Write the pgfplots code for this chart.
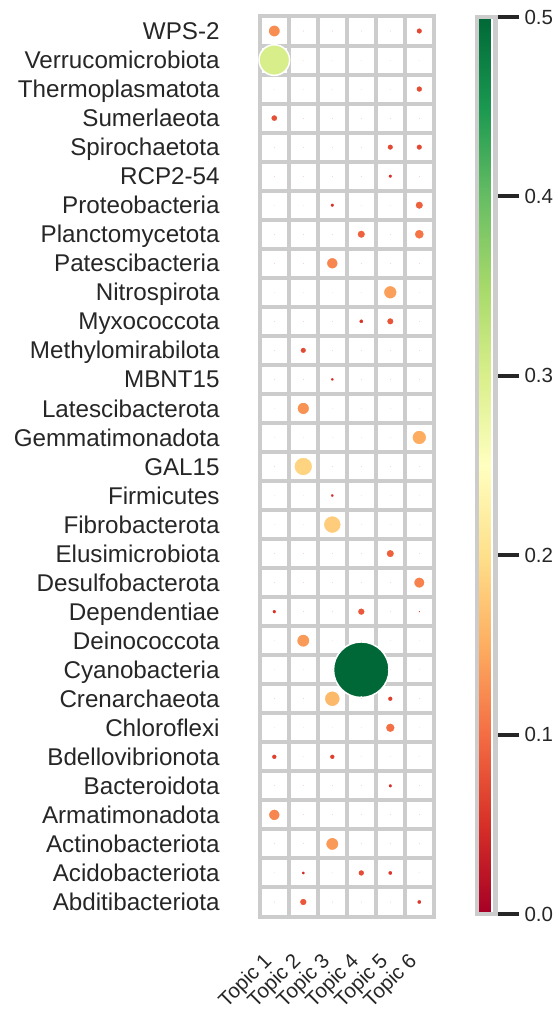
\documentclass[border=0pt]{standalone}
\usepackage{pgfplots}
\pgfplotsset{compat=1.18}
\usepackage{pgfplotstable}
\usepackage{fontspec}
\setmainfont{Liberation Sans}
\definecolor{gridgray}{HTML}{CCCCCC}
\definecolor{tickblack}{HTML}{262626}
\pgfplotsset{/pgf/number format/assume math mode=true}
% value of each phylum in each topic (0.032 = near zero)
\pgfplotstableread{
y  t1    t2    t3    t4    t5    t6
31 0.125 0.032 0.032 0.032 0.032 0.071
30 0.302 0.032 0.032 0.032 0.032 0.032
29 0.032 0.032 0.032 0.032 0.032 0.073
28 0.076 0.032 0.032 0.032 0.032 0.032
27 0.032 0.032 0.032 0.032 0.071 0.071
26 0.032 0.032 0.032 0.032 0.051 0.032
25 0.032 0.032 0.051 0.032 0.032 0.090
24 0.032 0.032 0.032 0.090 0.032 0.106
23 0.032 0.032 0.120 0.032 0.032 0.032
22 0.032 0.032 0.032 0.032 0.139 0.032
21 0.032 0.032 0.032 0.057 0.080 0.032
20 0.032 0.071 0.032 0.032 0.032 0.032
19 0.032 0.032 0.045 0.032 0.032 0.032
18 0.032 0.129 0.032 0.032 0.032 0.032
17 0.032 0.032 0.032 0.032 0.032 0.149
16 0.032 0.188 0.032 0.032 0.032 0.032
15 0.032 0.032 0.045 0.032 0.032 0.032
14 0.032 0.032 0.180 0.032 0.032 0.032
13 0.032 0.032 0.032 0.032 0.090 0.032
12 0.032 0.032 0.032 0.032 0.032 0.116
11 0.053 0.032 0.032 0.082 0.032 0.040
10 0.032 0.135 0.032 0.032 0.032 0.032
9  0.032 0.032 0.032 0.547 0.032 0.032
8  0.032 0.032 0.161 0.032 0.063 0.032
7  0.032 0.032 0.032 0.032 0.102 0.032
6  0.063 0.032 0.063 0.032 0.032 0.032
5  0.032 0.032 0.032 0.032 0.051 0.032
4  0.120 0.032 0.032 0.032 0.032 0.032
3  0.032 0.032 0.135 0.032 0.032 0.032
2  0.032 0.047 0.032 0.073 0.057 0.032
1  0.032 0.082 0.032 0.032 0.032 0.057
}\data
\pgfplotsset{bub/.style={scatter, only marks, mark=*, point meta=explicit,
  scatter/use mapped color={draw=white, fill=mapped color},
  mark options={line width=1.5pt},
  scatter/@pre marker code/.append style={/tikz/mark size=\msize}}}
\newcommand\topic[2]{\addplot[bub, visualization depends on={51*\thisrow{#2}-0.1 \as \msize}] table[x expr=#1, y=y, meta=#2] {\data};}
\begin{document}
\begin{tikzpicture}
\useasboundingbox (0,0) rectangle (558pt,1009pt);
\begin{axis}[
  at={(259.8pt,92.5pt)}, anchor=south west,
  scale only axis, width=174pt, height=900pt,
  xmin=0.5, xmax=6.5, ymin=0.5, ymax=31.5,
  xtick={1,2,3,4,5,6},
  xticklabels={Topic 1,Topic 2,Topic 3,Topic 4,Topic 5,Topic 6},
  ytick={1,2,...,31},
  yticklabels={Abditibacteriota,Acidobacteriota,Actinobacteriota,Armatimonadota,Bacteroidota,Bdellovibrionota,Chloroflexi,Crenarchaeota,Cyanobacteria,Deinococcota,Dependentiae,Desulfobacterota,Elusimicrobiota,Fibrobacterota,Firmicutes,GAL15,Gemmatimonadota,Latescibacterota,MBNT15,Methylomirabilota,Myxococcota,Nitrospirota,Patescibacteria,Planctomycetota,Proteobacteria,RCP2-54,Spirochaetota,Sumerlaeota,Thermoplasmatota,Verrucomicrobiota,WPS-2},
  minor xtick={0.5,1.5,...,6.5}, minor ytick={0.5,1.5,...,31.5},
  xminorgrids, yminorgrids,
  minor grid style={draw=gridgray, line width=4pt, line cap=rect},
  major tick length=0pt, minor tick length=0pt,
  axis line style={draw=none},
  yticklabel style={xshift=-40pt, yshift=-8.6pt, font=\fontsize{24.2}{28}\selectfont, anchor=base east, inner sep=0pt, text=tickblack},
  xticklabel style={xshift=-12pt, yshift=-35pt, font=\fontsize{20.5}{24}\selectfont, rotate=45, anchor=north east, inner sep=0pt, text=tickblack},
  colormap={RdYlGn}{rgb255=(165,0,38) rgb255=(215,48,39) rgb255=(244,109,67) rgb255=(253,174,97) rgb255=(254,224,139) rgb255=(255,255,191) rgb255=(217,239,139) rgb255=(166,217,106) rgb255=(102,189,99) rgb255=(26,152,80) rgb255=(0,104,55)},
  point meta min=0, point meta max=0.5,
  colorbar,
  colorbar style={
    anchor=south west, at={(parent axis.south east)}, xshift=34.4pt, yshift=2.5pt,
    scale only axis, width=18.6pt, height=897pt,
    ytick={0,0.1,0.2,0.3,0.4,0.5},
    ytick pos=right, yticklabel pos=right, tick align=outside,
    major tick length=24pt,
    ytick style={draw=tickblack, line width=4pt},
    axis line style={draw=gridgray, line width=4.4pt},
    yticklabel style={xshift=5pt, font=\fontsize{20.5}{24}\selectfont, anchor=west, inner sep=0pt, text=tickblack, /pgf/number format/.cd, fixed, fixed zerofill, precision=1},
  },
  clip=false,
]
\topic{1}{t1}
\topic{2}{t2}
\topic{3}{t3}
\topic{4}{t4}
\topic{5}{t5}
\topic{6}{t6}
\end{axis}
\end{tikzpicture}
\end{document}
